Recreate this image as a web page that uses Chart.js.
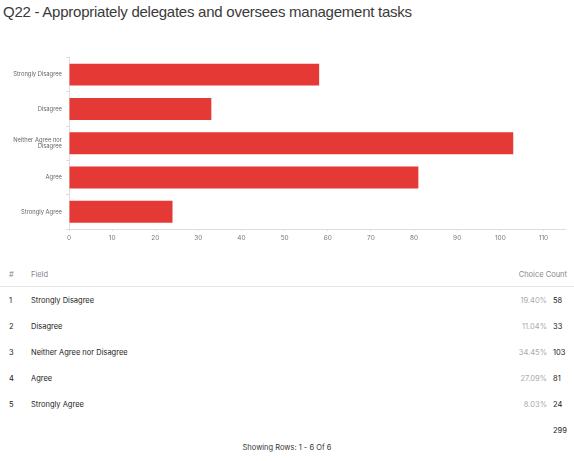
<!DOCTYPE html>
<html>
<head>
<meta charset="utf-8">
<script src="https://cdn.jsdelivr.net/npm/chart.js@4/dist/chart.umd.min.js"></script>
<style>
  body { margin: 0; background: #fff; width: 574px; height: 461px; position: relative; overflow: hidden; font-family: Inter, Roboto, sans-serif; }
  #title { position: absolute; left: 3px; top: 3px; font-family: "Liberation Sans", Arial, sans-serif; font-size: 15px; letter-spacing: -0.25px; color: #3a3a3a; }
  #wrap { position: absolute; left: 0; top: 50px; width: 574px; height: 195px; }
  #tbl { position: absolute; left: 0; top: 264px; width: 574px; font-size: 7.5px; color: #222; }
  .row { position: absolute; left: 0; width: 574px; height: 14px; line-height: 14px; }
  .num { position: absolute; left: 9px; }
  .field { position: absolute; left: 31px; }
  .pct { position: absolute; right: 27px; color: #aaa; }
  .cnt { position: absolute; left: 553px; }
  .hdr { color: #888; }
  #line { position: absolute; left: 0; top: 286px; width: 574px; height: 1px; background: #e4e4e4; }
  #foot { position: absolute; left: 0; top: 443px; width: 574px; text-align: center; font-size: 7.5px; color: #333; }
</style>
</head>
<body>
<div id="title">Q22 - Appropriately delegates and oversees management tasks</div>
<div id="wrap"><canvas id="chart"></canvas></div>
<div id="tbl"></div>
<div id="line"></div>
<div id="foot">Showing Rows: 1 - 6 Of 6</div>
<script>
const categories = ['Strongly Disagree', 'Disagree', 'Neither Agree nor Disagree', 'Agree', 'Strongly Agree'];
const axisLabels = ['Strongly Disagree', 'Disagree', ['Neither Agree nor', 'Disagree'], 'Agree', 'Strongly Agree'];
const counts = [58, 33, 103, 81, 24];
const xTicks = [0, 10, 20, 30, 40, 50, 60, 70, 80, 90, 100, 110];

const ctx = document.getElementById('chart').getContext('2d');
new Chart(ctx, {
    type: 'bar',
    data: {
        labels: axisLabels,
        datasets: [{
            data: counts,
            backgroundColor: '#e53935',
            categoryPercentage: 1,
            barPercentage: 0.64
        }]
    },
    options: {
        indexAxis: 'y',
        responsive: true,
        maintainAspectRatio: false,
        animation: false,
        layout: { padding: { top: 7, right: 9, left: 0, bottom: 0 } },
        plugins: { legend: { display: false }, tooltip: { enabled: false } },
        scales: {
            x: {
                min: 0,
                max: 115,
                afterBuildTicks: axis => { axis.ticks = xTicks.map(v => ({ value: v })); },
                afterFit: axis => { axis.height = 16; },
                grid: { drawOnChartArea: false, tickLength: 2, color: '#ddd' },
                border: { color: '#ddd' },
                ticks: { color: '#777', font: { size: 6.5, family: 'Inter' }, padding: 3, maxRotation: 0 }
            },
            y: {
                afterFit: axis => { axis.width = 69; },
                grid: { drawOnChartArea: false, tickLength: 3, color: '#ddd', offset: true },
                border: { color: '#ddd' },
                ticks: { color: '#666', font: { size: 5.8, family: 'Inter' }, padding: 4 }
            }
        }
    }
});

// table below the chart
const total = counts.reduce((a, b) => a + b, 0);
const tbl = document.getElementById('tbl');
let html = '<div class="row hdr" style="top:4px"><span class="num">#</span><span class="field">Field</span>' +
    '<span style="position:absolute;right:7px">Choice Count</span></div>';
categories.forEach((c, i) => {
    const top = 30 + i * 26;
    html += '<div class="row" style="top:' + top + 'px"><span class="num">' + (i + 1) + '</span>' +
        '<span class="field">' + c + '</span>' +
        '<span class="pct">' + (counts[i] / total * 100).toFixed(2) + '%</span>' +
        '<span class="cnt">' + counts[i] + '</span></div>';
});
html += '<div class="row" style="top:160px"><span class="cnt">' + total + '</span></div>';
tbl.innerHTML = html;
</script>
</body>
</html>
